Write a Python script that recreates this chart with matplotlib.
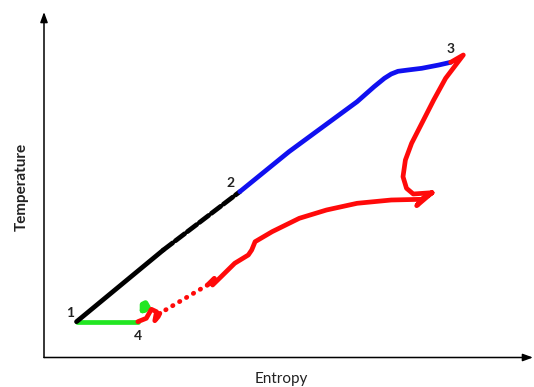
import matplotlib
matplotlib.use("Agg")
import matplotlib.pyplot as plt

plt.rcParams['font.family'] = ['Lato', 'DejaVu Sans']

# Process 1 -> 2 (compression), black
s12 = [32.5, 119.3, 195.8]
t12 = [35.8, 107.5, 165.8]
# Process 2 -> 3 (heat addition), blue
s23 = [195.8, 245, 313.1, 330.1, 340.4, 347.2, 354, 364, 377.8, 394.8, 406.7]
t23 = [165.8, 205.8, 255.8, 270.8, 279.2, 283.5, 286.2, 287.5, 289.2, 292.5, 295.2]
# Process 3 -> 4 (expansion), red
s34 = [406.7, 419.3, 401.6, 389.7, 379.5, 367.6, 361.4, 359, 362.5, 369.3, 388,
       372.7, 377.8, 388, 377.8, 347.2, 313.1, 282.5, 255.3, 228.1, 211.1, 207.7,
       204.3, 190.7, 177.1, 168.6, 170.3, 163.5]
t34 = [295.2, 302.5, 279.2, 257.5, 237.5, 214.2, 197.5, 180.8, 169.2, 163.5, 164.8,
       151.8, 158.2, 164.8, 158.2, 157.5, 154.2, 147.5, 139.2, 125.8, 115.8, 107.5,
       102.5, 94.2, 80.8, 72.5, 79.2, 72.5]
s34_dot = [163.5, 115.9]
t34_dot = [72.5, 44.2]
s34_end = [115.9, 114.2, 110.8, 112.5, 107.4, 102.3, 93.8]
t34_end = [44.2, 40.8, 36.8, 45.8, 48.2, 39.2, 35.8]
# Process 4 -> 1 (heat rejection), green
s41 = [93.8, 32.5]
t41 = [35.8, 35.8]
s41_blob = [98.5, 98.5, 101.5, 104, 101, 98.5]
t41_blob = [47, 53, 54.5, 50, 47.5, 47]

state_labels = ['1', '2', '3', '4']
label_s = [25.7, 186.6, 406.7, 93.8]
label_t = [44.2, 174.8, 308.2, 21.5]

fig = plt.figure(figsize=(5.34, 3.87), dpi=100)
ax = fig.add_axes([44 / 534, (387 - 357.5) / 387, (533 - 44) / 534, (357.5 - 12) / 387])
ax.set_xlim(0, 489)
ax.set_ylim(0, 345.5)
for sp in ax.spines.values():
    sp.set_visible(False)
ax.set_xticks([])
ax.set_yticks([])

arrow_kw = dict(arrowstyle='-|>,head_length=0.6,head_width=0.22', color='black', lw=1.1,
                shrinkA=0, shrinkB=0)
ax.annotate('', xy=(1, 0), xytext=(0, 0), xycoords='axes fraction', arrowprops=arrow_kw,
            annotation_clip=False)
ax.annotate('', xy=(0, 1), xytext=(0, 0), xycoords='axes fraction', arrowprops=arrow_kw,
            annotation_clip=False)

lw = 3.4
rk = dict(solid_capstyle='round', solid_joinstyle='round')
ax.plot(s41, t41, color='#22e622', lw=lw, **rk)
ax.plot(s41_blob, t41_blob, color='#22e622', lw=lw + 0.6, **rk)
ax.plot(s12[:2], t12[:2], color='black', lw=lw, **rk)
ax.plot(s12[1:], t12[1:], color='black', lw=lw, dash_capstyle='round',
        linestyle=(0, (2.5, 0.7)))
ax.plot(s23, t23, color='#1010f0', lw=lw, **rk)
ax.plot(s34, t34, color='#ff0a0a', lw=lw, **rk)
ax.plot(s34_dot, t34_dot, color='#ff0a0a', lw=lw, dash_capstyle='round',
        linestyle=(0, (0.1, 1.6)))
ax.plot(s34_end, t34_end, color='#ff0a0a', lw=lw, **rk)

for lab, s, t in zip(state_labels, label_s, label_t):
    ax.text(s, t, lab, fontsize=10, fontweight='bold', ha='center', va='center',
            color='#222222')

fig.text(22 / 534, 1 - 187 / 387, 'Temperature', rotation=90, ha='center', va='center',
         fontsize=11, fontweight='bold', color='#222222')
fig.text(281 / 534, 1 - 379 / 387, 'Entropy', ha='center', va='center', fontsize=11,
         color='#222222')

fig.savefig('out.png', dpi=100)
